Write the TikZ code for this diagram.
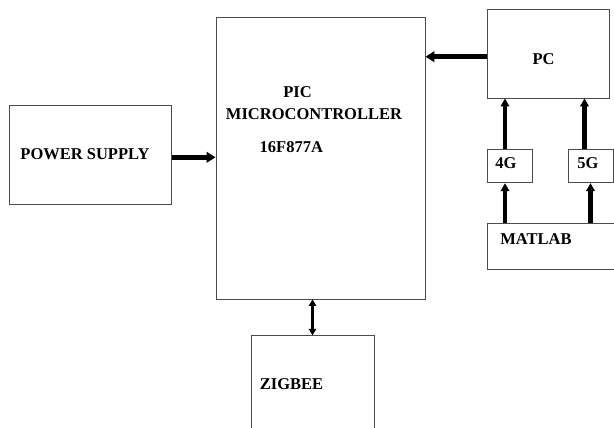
\documentclass[tikz,border=0pt]{standalone}
\usepackage{fontspec}
\setmainfont{Liberation Serif}
\usetikzlibrary{arrows.meta}
\begin{document}
\begin{tikzpicture}[x=1pt,y=-1pt,
  blk/.style={draw=black!70,line width=0.9pt,minimum width=#1,inner sep=0pt},
  lbl/.style={font=\fontsize{16.5}{18}\selectfont\bfseries,inner sep=0pt},
  harr/.style={line width=4.8pt,-{Triangle[length=9pt,width=10.5pt]}},
  varr/.style={line width=4.2pt,-{Triangle[length=8pt,width=8.5pt]}},
  darr/.style={line width=3.2pt,{Triangle[length=6.5pt,width=7.5pt]}-{Triangle[length=6.5pt,width=7.5pt]}}]
\useasboundingbox (0,0) rectangle (614,428);
\clip (0,0) rectangle (614,428);
\node[blk=162pt,minimum height=99.5pt] (ps) at (90.45,154.75) {};
\node[blk=209pt,minimum height=281.7pt] (pic) at (320.5,158.15) {};
\node[blk=122pt,minimum height=88.7pt] (pc) at (548,53.65) {};
\node[blk=45.5pt,minimum height=33.4pt] (g4) at (509.75,166) {};
\node[blk=45pt,minimum height=33.4pt] (g5) at (590.5,166) {};
\node[blk=153pt,minimum height=46pt] (ml) at (563.5,246) {};
\node[blk=123pt,minimum height=124.3pt] (zig) at (312.5,397.85) {};
% texts
\node[lbl] (t1) at (297.6,91.7) {PIC};
\node[lbl] (t2) at (314,113.7) {MICROCONTROLLER};
\node[lbl] (t3) at (291.3,147.3) {16F877A};
\node[lbl] (t4) at (85,154.3) {POWER SUPPLY};
\node[lbl] (t5) at (543.5,59.3) {PC};
\node[lbl] (t6) at (506,163.3) {4G};
\node[lbl] (t7) at (588,163.3) {5G};
\node[lbl] (t8) at (536,238.7) {MATLAB};
\node[lbl] (t9) at (291.5,384.3) {ZIGBEE};
% helper coordinates
\coordinate (ya) at (0,157.3);
\coordinate (yb) at (0,56.7);
\coordinate (xa) at (505,0);
\coordinate (xb) at (584.5,0);
\coordinate (xc) at (590.5,0);
\coordinate (xz) at (312.5,0);
% connectors
\draw[harr] (ps.east |- ya) -- (pic.west |- ya);
\draw[harr] (pc.west |- yb) -- (pic.east |- yb);
\draw[varr] (g4.north -| xa) -- (pc.south -| xa);
\draw[varr] (ml.north -| xa) -- (g4.south -| xa);
\draw[varr] (g5.north -| xb) -- (pc.south -| xb);
\draw[varr] (ml.north -| xc) -- (g5.south -| xc);
\draw[darr] (pic.south -| xz) -- (zig.north);
\end{tikzpicture}
\end{document}
